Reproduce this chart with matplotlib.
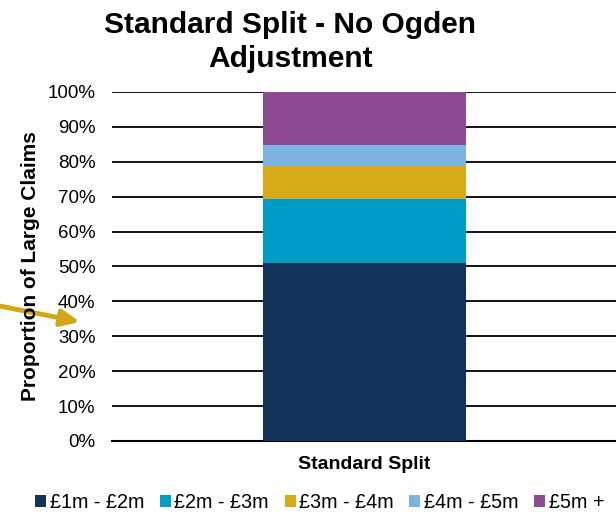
import matplotlib.pyplot as plt
from matplotlib.patches import Patch
from matplotlib.ticker import MultipleLocator, PercentFormatter

plt.rcParams['font.family'] = ['Liberation Sans', 'DejaVu Sans']

# Data (percent of large claims)
category = ['Standard Split']
bands = ['£1m - £2m', '£2m - £3m', '£3m - £4m', '£4m - £5m', '£5m +']
shares = [51.1, 18.2, 9.5, 5.9, 15.3]
colors = ['#13345A', '#009DC9', '#D7AB17', '#7DB3E0', '#8E4A93']

fig = plt.figure(figsize=(6.16, 5.15), dpi=100)
ax = fig.add_axes([0.182, 0.1437, 0.818, 0.6777])

bottom = 0
for band, val, col in zip(bands, shares, colors):
    ax.bar(category, val, bottom=bottom, width=0.403, color=col, label=band, zorder=3)
    bottom += val

ax.set_xlim(-0.5, 0.5)
ax.set_ylim(0, 100)
ax.yaxis.set_major_locator(MultipleLocator(10))
ax.yaxis.set_major_formatter(PercentFormatter(decimals=0))
ax.grid(axis='y', color='black', linewidth=1.3, zorder=0)
for s in ['top', 'right', 'left']:
    ax.spines[s].set_visible(False)
ax.spines['bottom'].set_color('black')
ax.spines['bottom'].set_linewidth(1.5)
ax.tick_params(axis='y', length=0, pad=12, labelsize=13.5)
ax.tick_params(axis='x', length=0, pad=11, labelsize=14)
for lbl in ax.get_xticklabels():
    lbl.set_fontweight('bold')

fig.text(0.049, 0.483, 'Proportion of Large Claims', rotation=90, ha='center', va='center',
         fontsize=15, fontweight='bold')

# title, two lines
fig.text(0.471, 0.935, 'Standard Split - No Ogden', ha='center', va='baseline',
         fontsize=21.5, fontweight='bold')
fig.text(0.471, 0.869, 'Adjustment', ha='center', va='baseline',
         fontsize=21.5, fontweight='bold')

handles = [Patch(facecolor=c, edgecolor='none') for c in colors]
fig.legend(handles, bands, loc='center', bbox_to_anchor=(0.519, 0.025), ncol=5,
           frameon=False, fontsize=14.2, handlelength=0.56, handleheight=0.56,
           handletextpad=0.17, columnspacing=0.8, borderpad=0)

# arrow on the left
ax.annotate('', xy=(0.134, 0.374), xycoords='figure fraction',
            xytext=(-0.01, 0.408), textcoords='figure fraction',
            arrowprops=dict(arrowstyle='-|>,head_length=1.1,head_width=0.5',
                            color='#D4A617', lw=3.5), annotation_clip=False)

fig.savefig('out.png', dpi=100)
